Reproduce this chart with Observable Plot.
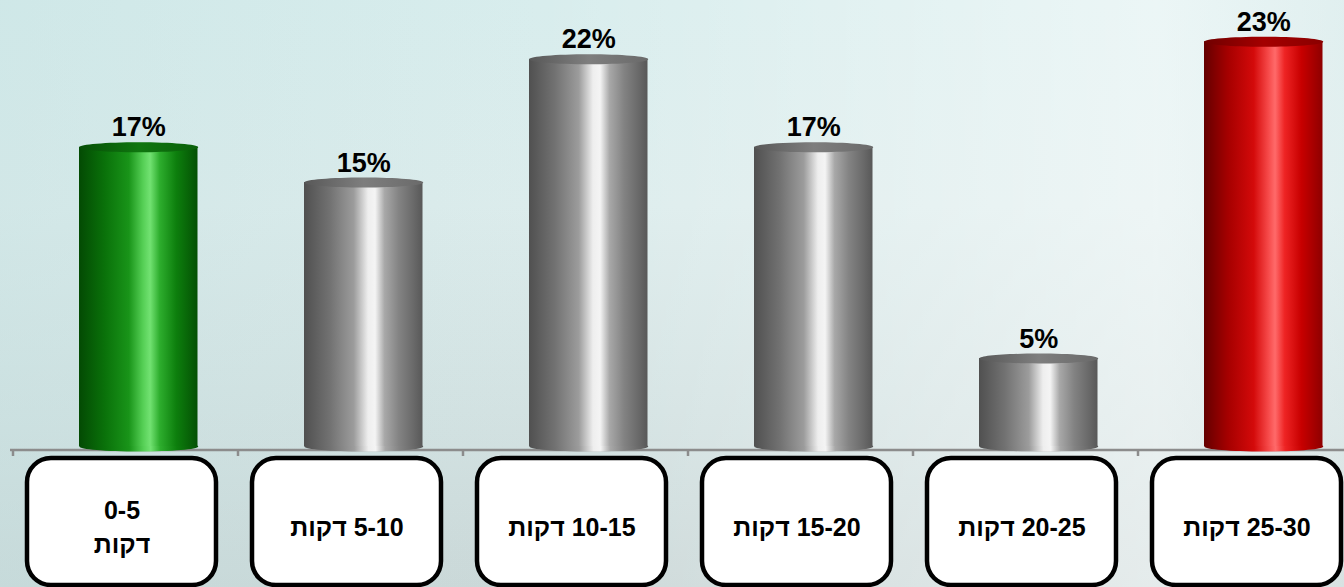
<!DOCTYPE html>
<html>
<head>
<meta charset="utf-8">
<script src="https://cdn.jsdelivr.net/npm/d3@7"></script>
<script src="https://cdn.jsdelivr.net/npm/@observablehq/plot@0.6"></script>
<style>
html, body { margin: 0; padding: 0; width: 1344px; height: 587px; overflow: hidden; }
body {
  background:
    linear-gradient(to right, rgba(190,222,222,0.35) 0%, rgba(255,255,255,0) 40%, rgba(255,255,255,0.5) 86%, rgba(240,244,244,0.35) 100%),
    linear-gradient(to bottom, #d8eded 0%, #dcecec 35%, #d3e2e2 70%, #cbd8d8 100%);
  font-family: Arial, "Liberation Sans", "DejaVu Sans", sans-serif;
}
#chart svg { display: block; }
</style>
</head>
<body>
<div id="chart"></div>
<script>
// ---- data ----
const categories = ["0-5", "5-10", "10-15", "15-20", "20-25", "25-30"];
const values = [17, 15, 22, 17, 5, 23];
const boxLabels = ["0-5\nדקות", "5-10 דקות", "10-15 דקות", "15-20 דקות", "20-25 דקות", "25-30 דקות"];
const tones = ["green", "gray", "gray", "gray", "gray", "red"];

const data = categories.map((c, i) => ({
  cat: c, value: values[i], label: values[i] + "%", box: boxLabels[i], tone: tones[i]
}));

// ---- styles ----
const bodyStops = {
  gray:  [[0, "#505050"], [0.22, "#727272"], [0.42, "#9c9c9c"], [0.54, "#eeeeee"], [0.6, "#f4f4f4"], [0.68, "#a8a8a8"], [0.8, "#838383"], [0.93, "#686868"], [1, "#585858"]],
  green: [[0, "#034a03"], [0.22, "#0a720a"], [0.42, "#199419"], [0.54, "#55cf55"], [0.6, "#72e272"], [0.68, "#2eae2e"], [0.82, "#0d7f0d"], [1, "#045004"]],
  red:   [[0, "#640000"], [0.2, "#a50000"], [0.42, "#d40a0a"], [0.54, "#f54848"], [0.6, "#ff6a6a"], [0.68, "#ee2424"], [0.82, "#c80000"], [1, "#8e0000"]]
};
const topStops = {
  gray:  [[0, "#585858"], [0.5, "#7e7e7e"], [1, "#6a6a6a"]],
  green: [[0, "#064e06"], [0.5, "#0f760f"], [1, "#0a600a"]],
  red:   [[0, "#700000"], [0.5, "#a40000"], [1, "#8a0000"]]
};
const BAR_DX = 12.75, RX = 59.5, RY = 5;

function ellipse(rx, ry) {
  const k = 0.5523;
  return {
    draw(ctx) {
      ctx.moveTo(-rx, 0);
      ctx.bezierCurveTo(-rx, -ry * k, -rx * k, -ry, 0, -ry);
      ctx.bezierCurveTo(rx * k, -ry, rx, -ry * k, rx, 0);
      ctx.bezierCurveTo(rx, ry * k, rx * k, ry, 0, ry);
      ctx.bezierCurveTo(-rx * k, ry, -rx, ry * k, -rx, 0);
      ctx.closePath();
    }
  };
}

function defsMark() {
  const defs = d3.create("svg:defs");
  const add = (id, stops) => {
    const g = defs.append("linearGradient").attr("id", id)
      .attr("x1", 0).attr("x2", 1).attr("y1", 0).attr("y2", 0);
    for (const [o, c] of stops) g.append("stop").attr("offset", o).attr("stop-color", c);
  };
  for (const t of Object.keys(bodyStops)) {
    add("body-" + t, bodyStops[t]);
    add("top-" + t, topStops[t]);
  }
  return defs.node();
}

function axisMark(index, scales, values, dims) {
  const x = scales.x;
  const y0 = scales.y(0) + 4;
  const g = d3.create("svg:g").attr("stroke", "#8c8c8c").attr("stroke-width", 2.5).attr("fill", "none");
  g.append("line").attr("x1", 10).attr("x2", dims.width).attr("y1", y0).attr("y2", y0);
  for (const c of categories) {
    const px = x(c);
    g.append("line").attr("x1", px).attr("x2", px).attr("y1", y0).attr("y2", y0 + 6);
  }
  return g.node();
}

function boxMark(index, scales) {
  const x = scales.x;
  const step = x(categories[1]) - x(categories[0]);
  const y0 = scales.y(0);
  const g = d3.create("svg:g");
  for (const c of categories) {
    const cx = x(c) + step / 2 - 4;
    g.append("rect")
      .attr("x", cx - 94.5).attr("y", y0 + 12)
      .attr("width", 189).attr("height", 127)
      .attr("rx", 24).attr("ry", 24)
      .attr("fill", "white").attr("stroke", "black").attr("stroke-width", 4.5);
  }
  return g.node();
}

const chart = Plot.plot({
  width: 1344,
  height: 587,
  marginTop: 6,
  marginBottom: 141,
  marginLeft: 0,
  marginRight: 0,
  style: { background: "transparent", overflow: "visible", fontFamily: 'Arial, "Liberation Sans", "DejaVu Sans", sans-serif' },
  x: { domain: categories, range: [11, 1364], padding: 0, axis: null },
  y: { domain: [0, 25], axis: null },
  color: { type: "identity" },
  marks: [
    defsMark,
    axisMark,
    boxMark,
    Plot.text(data, {
      x: "cat", text: d => "\u200F" + d.box, frameAnchor: "bottom",
      dx: -4, dy: 79, lineAnchor: "middle", lineHeight: 1.35,
      fontSize: 25, fontWeight: "bold", fill: "black"
    }),
    Plot.dot(data, { x: "cat", y: () => 0, symbol: ellipse(RX, RY), fill: d => `url(#body-${d.tone})`, dx: BAR_DX }),
    Plot.barY(data, { x: "cat", y: "value", fill: d => `url(#body-${d.tone})`, insetLeft: 66, insetRight: 40.5 }),
    Plot.dot(data, { x: "cat", y: "value", symbol: ellipse(RX, RY), fill: d => `url(#top-${d.tone})`, dx: BAR_DX }),
    Plot.text(data, {
      x: "cat", y: "value", text: "label", dx: BAR_DX, dy: -11, lineAnchor: "bottom",
      fontSize: 27, fontWeight: "bold", fill: "black"
    })
  ]
});
document.getElementById("chart").appendChild(chart);
</script>
</body>
</html>
